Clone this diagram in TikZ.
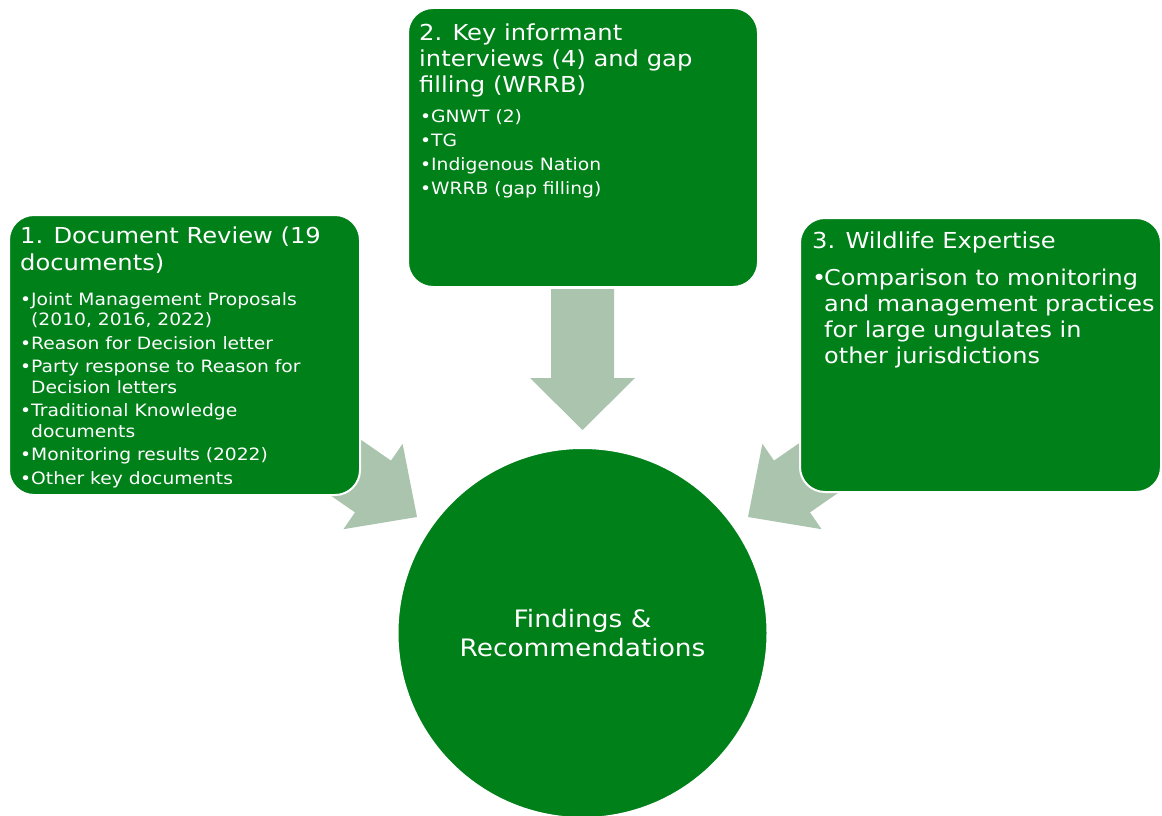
\documentclass[tikz,border=0pt]{standalone}
\usepackage{fontspec}
\setmainfont[FakeStretch=1.1]{DejaVu Sans}
\usetikzlibrary{calc}
\definecolor{boxgreen}{RGB}{0,128,25}
\definecolor{arrowgrey}{RGB}{171,196,173}
\newcommand{\bul}{\makebox[11bp][l]{\textbullet}}
\newcommand{\cont}{\hspace*{11bp}}
\tikzset{
  box/.style={draw=white, line width=2bp, fill=boxgreen, rounded corners=25bp, anchor=north west, inner sep=0pt},
  blockarrow/.style={fill=arrowgrey, draw=none},
  titletext/.style={text=white, anchor=north west, inner sep=0pt, align=left, font=\fontsize{22bp}{27bp}\selectfont},
  bullettext/.style={text=white, anchor=north west, inner sep=0pt, align=left, font=\fontsize{17bp}{20.5bp}\selectfont},
  bigbullettext/.style={text=white, anchor=north west, inner sep=0pt, align=left, font=\fontsize{21.8bp}{26bp}\selectfont},
}
\begin{document}
\begin{tikzpicture}[x=1bp,y=-1bp]
\useasboundingbox (0,0) rectangle (1162,816);
% block arrows
\fill[blockarrow] (551,289) -- (614,289) -- (614,378) -- (635,378) -- (582.5,430) -- (530,378) -- (551,378) -- cycle;
\fill[blockarrow] (308.8,403.6) -- (391,460.6) -- (402.6,443.8) -- (417,517) -- (343.4,529.2) -- (355,512.4) -- (272.8,455.4) -- cycle;
\fill[blockarrow] (856.2,403.6) -- (774,460.6) -- (762.4,443.8) -- (748,517) -- (821.6,529.2) -- (810,512.4) -- (892.2,455.4) -- cycle;
% boxes
\node[box, minimum width=351bp, minimum height=280bp] (b1) at (8,214) {};
\node[box, minimum width=350bp, minimum height=279bp] (b2) at (407,7) {};
\node[box, minimum width=361bp, minimum height=274bp] (b3) at (799,217) {};
% circle
\node[circle, fill=boxgreen, draw=white, line width=2bp, minimum size=370bp, inner sep=0pt] (c) at (582.5,633) {};
\node[text=white, align=center, font=\fontsize{24bp}{29bp}\selectfont] (ct) at (c.center) {Findings \&\\Recommendations};
% texts
\node[titletext] (t1) at (20,227) {1. Document Review (19\\documents)};
\node[bullettext] (l1) at (20,292) {\bul Joint Management Proposals\\
\cont (2010, 2016, 2022)\\[3bp]
\bul Reason for Decision letter\\[3bp]
\bul Party response to Reason for\\
\cont Decision letters\\[3bp]
\bul Traditional Knowledge\\
\cont documents\\[3bp]
\bul Monitoring results (2022)\\[3bp]
\bul Other key documents};
\node[titletext, font=\fontsize{22bp}{26bp}\selectfont] (t2) at (419,23.5) {2. Key informant\\interviews (4) and gap\\filling (WRRB)};
\node[bullettext] (l2) at (420,109.5) {\bul GNWT (2)\\[3.5bp]
\bul TG\\[3.5bp]
\bul Indigenous Nation\\[3.5bp]
\bul WRRB (gap filling)};
\node[titletext] (t3) at (812,232) {3. Wildlife Expertise};
\node[bigbullettext] (l3) at (812,268.5) {\makebox[12bp][l]{\textbullet}Comparison to monitoring\\
\hspace*{12bp}and management practices\\
\hspace*{12bp}for large ungulates in\\
\hspace*{12bp}other jurisdictions};
\end{tikzpicture}
\end{document}
